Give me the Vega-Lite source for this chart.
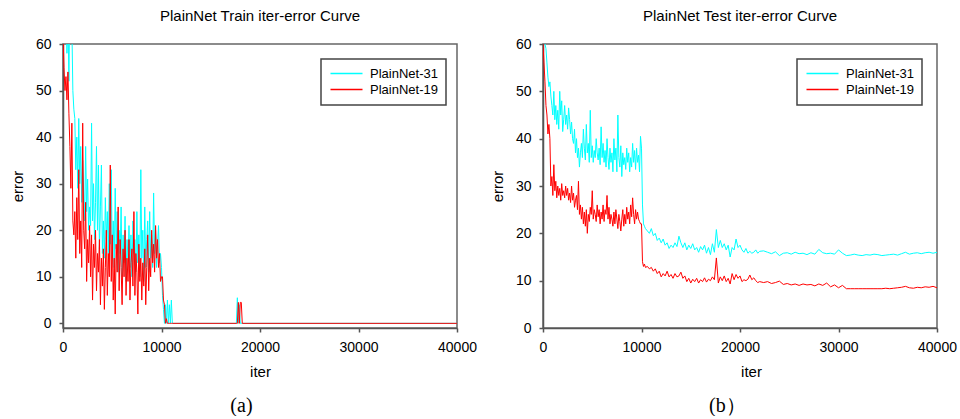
{
"$schema": "https://vega.github.io/schema/vega-lite/v6.json",
"background": "white",
"padding": {"left": 9, "top": 8, "right": 5, "bottom": 0},
"resolve": {"scale": {"color": "independent"}, "legend": {"color": "independent"}},
"config": {
  "font": "Liberation Sans",
  "view": {"stroke": "#666", "strokeWidth": 1.5},
  "axis": {"grid": false, "domainColor": "#555", "domainWidth": 1.5, "tickColor": "#555", "tickWidth": 1.5, "tickSize": 4, "labelFontSize": 14, "labelColor": "#000", "titleFontSize": 15, "titleFontWeight": "normal", "titleColor": "#000", "labelPadding": 8, "titlePadding": 10, "labelFlush": false, "labelOverlap": false, "format": "d"},
  "title": {"fontSize": 15, "fontWeight": "normal", "color": "#000", "anchor": "middle"},
  "legend": {"orient": "none", "title": null, "symbolType": "M-1,0H5.4", "symbolSize": 100, "symbolStrokeWidth": 1.5, "labelOffset": 28, "labelFontSize": 13, "labelColor": "#000", "padding": 8, "rowPadding": 2, "strokeColor": "#444", "fillColor": "white"},
  "concat": {"spacing": 11}
},
"datasets": {
"train": [
{"iter":0,"PlainNet-31":75,"PlainNet-19":62},
{"iter":100,"PlainNet-31":68,"PlainNet-19":55},
{"iter":200,"PlainNet-31":62,"PlainNet-19":50},
{"iter":300,"PlainNet-31":70,"PlainNet-19":53},
{"iter":400,"PlainNet-31":58,"PlainNet-19":48},
{"iter":500,"PlainNet-31":66,"PlainNet-19":54},
{"iter":600,"PlainNet-31":52,"PlainNet-19":45},
{"iter":700,"PlainNet-31":72,"PlainNet-19":38},
{"iter":800,"PlainNet-31":60,"PlainNet-19":29},
{"iter":900,"PlainNet-31":64,"PlainNet-19":43},
{"iter":1000,"PlainNet-31":50,"PlainNet-19":22},
{"iter":1100,"PlainNet-31":46,"PlainNet-19":19},
{"iter":1200,"PlainNet-31":44,"PlainNet-19":24},
{"iter":1300,"PlainNet-31":33,"PlainNet-19":14},
{"iter":1400,"PlainNet-31":40,"PlainNet-19":27},
{"iter":1500,"PlainNet-31":29,"PlainNet-19":18},
{"iter":1600,"PlainNet-31":44,"PlainNet-19":33},
{"iter":1700,"PlainNet-31":30,"PlainNet-19":15},
{"iter":1800,"PlainNet-31":38,"PlainNet-19":22},
{"iter":1900,"PlainNet-31":26,"PlainNet-19":12},
{"iter":2000,"PlainNet-31":35,"PlainNet-19":43},
{"iter":2100,"PlainNet-31":28,"PlainNet-19":20},
{"iter":2200,"PlainNet-31":22,"PlainNet-19":16},
{"iter":2300,"PlainNet-31":38,"PlainNet-19":26},
{"iter":2400,"PlainNet-31":24,"PlainNet-19":9},
{"iter":2500,"PlainNet-31":31,"PlainNet-19":18},
{"iter":2600,"PlainNet-31":20,"PlainNet-19":13},
{"iter":2700,"PlainNet-31":25,"PlainNet-19":21},
{"iter":2800,"PlainNet-31":21,"PlainNet-19":10},
{"iter":2900,"PlainNet-31":43,"PlainNet-19":19},
{"iter":3000,"PlainNet-31":22,"PlainNet-19":5},
{"iter":3100,"PlainNet-31":30,"PlainNet-19":17},
{"iter":3200,"PlainNet-31":18,"PlainNet-19":12},
{"iter":3300,"PlainNet-31":26,"PlainNet-19":20},
{"iter":3400,"PlainNet-31":38,"PlainNet-19":7},
{"iter":3500,"PlainNet-31":20,"PlainNet-19":15},
{"iter":3600,"PlainNet-31":34,"PlainNet-19":11},
{"iter":3700,"PlainNet-31":16,"PlainNet-19":18},
{"iter":3800,"PlainNet-31":25,"PlainNet-19":4},
{"iter":3900,"PlainNet-31":34,"PlainNet-19":14},
{"iter":4000,"PlainNet-31":15,"PlainNet-19":8},
{"iter":4100,"PlainNet-31":22,"PlainNet-19":16},
{"iter":4200,"PlainNet-31":14,"PlainNet-19":3},
{"iter":4300,"PlainNet-31":27,"PlainNet-19":12},
{"iter":4400,"PlainNet-31":18,"PlainNet-19":20},
{"iter":4500,"PlainNet-31":24,"PlainNet-19":6},
{"iter":4600,"PlainNet-31":15,"PlainNet-19":15},
{"iter":4700,"PlainNet-31":30,"PlainNet-19":10},
{"iter":4800,"PlainNet-31":17,"PlainNet-19":34},
{"iter":4900,"PlainNet-31":33,"PlainNet-19":9},
{"iter":5000,"PlainNet-31":14,"PlainNet-19":19},
{"iter":5100,"PlainNet-31":22,"PlainNet-19":5},
{"iter":5200,"PlainNet-31":12,"PlainNet-19":14},
{"iter":5300,"PlainNet-31":29,"PlainNet-19":2},
{"iter":5400,"PlainNet-31":16,"PlainNet-19":17},
{"iter":5500,"PlainNet-31":24,"PlainNet-19":11},
{"iter":5600,"PlainNet-31":11,"PlainNet-19":25},
{"iter":5700,"PlainNet-31":20,"PlainNet-19":7},
{"iter":5800,"PlainNet-31":15,"PlainNet-19":18},
{"iter":5900,"PlainNet-31":25,"PlainNet-19":12},
{"iter":6000,"PlainNet-31":10,"PlainNet-19":4},
{"iter":6100,"PlainNet-31":19,"PlainNet-19":16},
{"iter":6200,"PlainNet-31":13,"PlainNet-19":10},
{"iter":6300,"PlainNet-31":23,"PlainNet-19":20},
{"iter":6400,"PlainNet-31":9,"PlainNet-19":6},
{"iter":6500,"PlainNet-31":18,"PlainNet-19":14},
{"iter":6600,"PlainNet-31":14,"PlainNet-19":9},
{"iter":6700,"PlainNet-31":21,"PlainNet-19":18},
{"iter":6800,"PlainNet-31":12,"PlainNet-19":5},
{"iter":6900,"PlainNet-31":19,"PlainNet-19":13},
{"iter":7000,"PlainNet-31":10,"PlainNet-19":16},
{"iter":7100,"PlainNet-31":22,"PlainNet-19":8},
{"iter":7200,"PlainNet-31":15,"PlainNet-19":24},
{"iter":7300,"PlainNet-31":18,"PlainNet-19":6},
{"iter":7400,"PlainNet-31":11,"PlainNet-19":15},
{"iter":7500,"PlainNet-31":24,"PlainNet-19":11},
{"iter":7600,"PlainNet-31":13,"PlainNet-19":2},
{"iter":7700,"PlainNet-31":19,"PlainNet-19":17},
{"iter":7800,"PlainNet-31":10,"PlainNet-19":9},
{"iter":7900,"PlainNet-31":33,"PlainNet-19":14},
{"iter":8000,"PlainNet-31":14,"PlainNet-19":5},
{"iter":8100,"PlainNet-31":20,"PlainNet-19":13},
{"iter":8200,"PlainNet-31":9,"PlainNet-19":8},
{"iter":8300,"PlainNet-31":25,"PlainNet-19":16},
{"iter":8400,"PlainNet-31":12,"PlainNet-19":4},
{"iter":8500,"PlainNet-31":18,"PlainNet-19":12},
{"iter":8600,"PlainNet-31":22,"PlainNet-19":19},
{"iter":8700,"PlainNet-31":11,"PlainNet-19":7},
{"iter":8800,"PlainNet-31":24,"PlainNet-19":14},
{"iter":8900,"PlainNet-31":14,"PlainNet-19":10},
{"iter":9000,"PlainNet-31":19,"PlainNet-19":20},
{"iter":9100,"PlainNet-31":12,"PlainNet-19":13},
{"iter":9200,"PlainNet-31":28,"PlainNet-19":17},
{"iter":9300,"PlainNet-31":15,"PlainNet-19":11},
{"iter":9400,"PlainNet-31":20,"PlainNet-19":21},
{"iter":9500,"PlainNet-31":12,"PlainNet-19":14},
{"iter":9600,"PlainNet-31":17,"PlainNet-19":18},
{"iter":9700,"PlainNet-31":21,"PlainNet-19":12},
{"iter":9800,"PlainNet-31":13,"PlainNet-19":15},
{"iter":9900,"PlainNet-31":15,"PlainNet-19":9},
{"iter":10000,"PlainNet-31":12,"PlainNet-19":10},
{"iter":10100,"PlainNet-31":6,"PlainNet-19":10},
{"iter":10200,"PlainNet-31":3,"PlainNet-19":5},
{"iter":10300,"PlainNet-31":0,"PlainNet-19":4},
{"iter":10400,"PlainNet-31":4,"PlainNet-19":0},
{"iter":10500,"PlainNet-31":0,"PlainNet-19":1},
{"iter":10600,"PlainNet-31":5,"PlainNet-19":0},
{"iter":10700,"PlainNet-31":0,"PlainNet-19":0},
{"iter":10800,"PlainNet-31":4,"PlainNet-19":0},
{"iter":10900,"PlainNet-31":0,"PlainNet-19":0},
{"iter":11000,"PlainNet-31":5,"PlainNet-19":0},
{"iter":11100,"PlainNet-31":0,"PlainNet-19":0},
{"iter":17600,"PlainNet-31":0,"PlainNet-19":0},
{"iter":17700,"PlainNet-31":5.5,"PlainNet-19":0},
{"iter":17800,"PlainNet-31":0,"PlainNet-19":4.5},
{"iter":17900,"PlainNet-31":4,"PlainNet-19":0},
{"iter":18000,"PlainNet-31":0,"PlainNet-19":4.5},
{"iter":18100,"PlainNet-31":0,"PlainNet-19":4.5},
{"iter":18200,"PlainNet-31":0,"PlainNet-19":0},
{"iter":40000,"PlainNet-31":0,"PlainNet-19":0}
],
"test": [
{"iter":0,"PlainNet-31":62,"PlainNet-19":60},
{"iter":100,"PlainNet-31":61,"PlainNet-19":56},
{"iter":200,"PlainNet-31":60,"PlainNet-19":52},
{"iter":300,"PlainNet-31":59,"PlainNet-19":47},
{"iter":400,"PlainNet-31":56,"PlainNet-19":45},
{"iter":500,"PlainNet-31":53,"PlainNet-19":41},
{"iter":600,"PlainNet-31":51,"PlainNet-19":43},
{"iter":700,"PlainNet-31":52,"PlainNet-19":40},
{"iter":800,"PlainNet-31":49,"PlainNet-19":30},
{"iter":900,"PlainNet-31":47,"PlainNet-19":32},
{"iter":1000,"PlainNet-31":45,"PlainNet-19":28},
{"iter":1100,"PlainNet-31":50,"PlainNet-19":34.5},
{"iter":1200,"PlainNet-31":44,"PlainNet-19":29},
{"iter":1300,"PlainNet-31":47,"PlainNet-19":31},
{"iter":1400,"PlainNet-31":43,"PlainNet-19":27.5},
{"iter":1500,"PlainNet-31":46,"PlainNet-19":30},
{"iter":1600,"PlainNet-31":42,"PlainNet-19":28},
{"iter":1700,"PlainNet-31":50,"PlainNet-19":29.5},
{"iter":1800,"PlainNet-31":45,"PlainNet-19":27},
{"iter":1900,"PlainNet-31":48,"PlainNet-19":30.5},
{"iter":2000,"PlainNet-31":41.5,"PlainNet-19":28},
{"iter":2100,"PlainNet-31":44,"PlainNet-19":29},
{"iter":2200,"PlainNet-31":47,"PlainNet-19":27.5},
{"iter":2300,"PlainNet-31":43,"PlainNet-19":30},
{"iter":2400,"PlainNet-31":45,"PlainNet-19":28},
{"iter":2500,"PlainNet-31":42,"PlainNet-19":29.5},
{"iter":2600,"PlainNet-31":46.5,"PlainNet-19":27},
{"iter":2700,"PlainNet-31":44,"PlainNet-19":28.5},
{"iter":2800,"PlainNet-31":41,"PlainNet-19":26.5},
{"iter":2900,"PlainNet-31":43.5,"PlainNet-19":30},
{"iter":3000,"PlainNet-31":40,"PlainNet-19":27},
{"iter":3100,"PlainNet-31":39,"PlainNet-19":28.5},
{"iter":3200,"PlainNet-31":42,"PlainNet-19":25.5},
{"iter":3300,"PlainNet-31":37,"PlainNet-19":27},
{"iter":3400,"PlainNet-31":40,"PlainNet-19":28},
{"iter":3500,"PlainNet-31":36,"PlainNet-19":25},
{"iter":3600,"PlainNet-31":38,"PlainNet-19":31},
{"iter":3700,"PlainNet-31":34,"PlainNet-19":24},
{"iter":3800,"PlainNet-31":37,"PlainNet-19":26},
{"iter":3900,"PlainNet-31":39,"PlainNet-19":23},
{"iter":4000,"PlainNet-31":36,"PlainNet-19":25.5},
{"iter":4100,"PlainNet-31":42,"PlainNet-19":22},
{"iter":4200,"PlainNet-31":38,"PlainNet-19":24.5},
{"iter":4300,"PlainNet-31":35.5,"PlainNet-19":21.5},
{"iter":4400,"PlainNet-31":43,"PlainNet-19":25},
{"iter":4500,"PlainNet-31":37,"PlainNet-19":20},
{"iter":4600,"PlainNet-31":39,"PlainNet-19":24},
{"iter":4700,"PlainNet-31":35,"PlainNet-19":22.5},
{"iter":4800,"PlainNet-31":46,"PlainNet-19":25.5},
{"iter":4900,"PlainNet-31":36,"PlainNet-19":24},
{"iter":5000,"PlainNet-31":38.5,"PlainNet-19":29},
{"iter":5100,"PlainNet-31":35,"PlainNet-19":23},
{"iter":5200,"PlainNet-31":37.5,"PlainNet-19":25},
{"iter":5300,"PlainNet-31":36,"PlainNet-19":24},
{"iter":5400,"PlainNet-31":40,"PlainNet-19":22.5},
{"iter":5500,"PlainNet-31":37,"PlainNet-19":26},
{"iter":5600,"PlainNet-31":35.5,"PlainNet-19":23.5},
{"iter":5700,"PlainNet-31":38,"PlainNet-19":25},
{"iter":5800,"PlainNet-31":34.5,"PlainNet-19":22},
{"iter":5900,"PlainNet-31":42.5,"PlainNet-19":24.5},
{"iter":6000,"PlainNet-31":36,"PlainNet-19":23},
{"iter":6100,"PlainNet-31":39,"PlainNet-19":26},
{"iter":6200,"PlainNet-31":35,"PlainNet-19":22.5},
{"iter":6300,"PlainNet-31":37.5,"PlainNet-19":25},
{"iter":6400,"PlainNet-31":34,"PlainNet-19":24},
{"iter":6500,"PlainNet-31":40,"PlainNet-19":28},
{"iter":6600,"PlainNet-31":36,"PlainNet-19":23},
{"iter":6700,"PlainNet-31":33.5,"PlainNet-19":25.5},
{"iter":6800,"PlainNet-31":38,"PlainNet-19":22},
{"iter":6900,"PlainNet-31":35,"PlainNet-19":24},
{"iter":7000,"PlainNet-31":37,"PlainNet-19":23},
{"iter":7100,"PlainNet-31":33,"PlainNet-19":21.5},
{"iter":7200,"PlainNet-31":40,"PlainNet-19":24.5},
{"iter":7300,"PlainNet-31":35.5,"PlainNet-19":22},
{"iter":7400,"PlainNet-31":38,"PlainNet-19":25},
{"iter":7500,"PlainNet-31":33,"PlainNet-19":23},
{"iter":7600,"PlainNet-31":45,"PlainNet-19":21},
{"iter":7700,"PlainNet-31":36,"PlainNet-19":24},
{"iter":7800,"PlainNet-31":34,"PlainNet-19":22.5},
{"iter":7900,"PlainNet-31":38.5,"PlainNet-19":20.5},
{"iter":8000,"PlainNet-31":32,"PlainNet-19":23},
{"iter":8100,"PlainNet-31":37,"PlainNet-19":25},
{"iter":8200,"PlainNet-31":34.5,"PlainNet-19":21.5},
{"iter":8300,"PlainNet-31":36,"PlainNet-19":24},
{"iter":8400,"PlainNet-31":33.5,"PlainNet-19":22},
{"iter":8500,"PlainNet-31":38,"PlainNet-19":25.5},
{"iter":8600,"PlainNet-31":35,"PlainNet-19":23},
{"iter":8700,"PlainNet-31":37,"PlainNet-19":24.5},
{"iter":8800,"PlainNet-31":33,"PlainNet-19":22},
{"iter":8900,"PlainNet-31":36,"PlainNet-19":26},
{"iter":9000,"PlainNet-31":34,"PlainNet-19":23.5},
{"iter":9100,"PlainNet-31":39,"PlainNet-19":27.5},
{"iter":9200,"PlainNet-31":35,"PlainNet-19":24},
{"iter":9300,"PlainNet-31":37.5,"PlainNet-19":22},
{"iter":9400,"PlainNet-31":33.5,"PlainNet-19":25},
{"iter":9500,"PlainNet-31":38,"PlainNet-19":23},
{"iter":9600,"PlainNet-31":35,"PlainNet-19":24.5},
{"iter":9700,"PlainNet-31":36.5,"PlainNet-19":23},
{"iter":9800,"PlainNet-31":33,"PlainNet-19":22.5},
{"iter":9900,"PlainNet-31":40.5,"PlainNet-19":22},
{"iter":10000,"PlainNet-31":38,"PlainNet-19":22},
{"iter":10100,"PlainNet-31":26,"PlainNet-19":14},
{"iter":10200,"PlainNet-31":22,"PlainNet-19":13},
{"iter":10300,"PlainNet-31":21.5,"PlainNet-19":13.5},
{"iter":10400,"PlainNet-31":21,"PlainNet-19":12.8},
{"iter":10600,"PlainNet-31":20.5,"PlainNet-19":13},
{"iter":10800,"PlainNet-31":20,"PlainNet-19":12.5},
{"iter":11000,"PlainNet-31":21,"PlainNet-19":12.8},
{"iter":11200,"PlainNet-31":19.5,"PlainNet-19":12},
{"iter":11400,"PlainNet-31":20,"PlainNet-19":12.5},
{"iter":11600,"PlainNet-31":18.5,"PlainNet-19":11.5},
{"iter":11800,"PlainNet-31":19,"PlainNet-19":12},
{"iter":12000,"PlainNet-31":18,"PlainNet-19":10.8},
{"iter":12200,"PlainNet-31":18.8,"PlainNet-19":11.5},
{"iter":12400,"PlainNet-31":17.5,"PlainNet-19":11},
{"iter":12600,"PlainNet-31":18,"PlainNet-19":12},
{"iter":12800,"PlainNet-31":16.8,"PlainNet-19":10.8},
{"iter":13000,"PlainNet-31":17.5,"PlainNet-19":11.3},
{"iter":13200,"PlainNet-31":17,"PlainNet-19":10.5},
{"iter":13400,"PlainNet-31":18,"PlainNet-19":11.5},
{"iter":13600,"PlainNet-31":17.2,"PlainNet-19":10.8},
{"iter":13800,"PlainNet-31":19.4,"PlainNet-19":11},
{"iter":14000,"PlainNet-31":18,"PlainNet-19":11.8},
{"iter":14200,"PlainNet-31":17,"PlainNet-19":10.5},
{"iter":14400,"PlainNet-31":18,"PlainNet-19":11},
{"iter":14600,"PlainNet-31":16.5,"PlainNet-19":9.8},
{"iter":14800,"PlainNet-31":17.5,"PlainNet-19":10.5},
{"iter":15000,"PlainNet-31":16.8,"PlainNet-19":9.5},
{"iter":15200,"PlainNet-31":17.8,"PlainNet-19":10.3},
{"iter":15400,"PlainNet-31":16.5,"PlainNet-19":9.8},
{"iter":15600,"PlainNet-31":17,"PlainNet-19":10.5},
{"iter":15800,"PlainNet-31":16,"PlainNet-19":9.5},
{"iter":16000,"PlainNet-31":17.2,"PlainNet-19":10.2},
{"iter":16200,"PlainNet-31":16.5,"PlainNet-19":9.8},
{"iter":16400,"PlainNet-31":17.5,"PlainNet-19":10.6},
{"iter":16600,"PlainNet-31":15.8,"PlainNet-19":9.7},
{"iter":16800,"PlainNet-31":17,"PlainNet-19":10.3},
{"iter":17000,"PlainNet-31":15.5,"PlainNet-19":10},
{"iter":17200,"PlainNet-31":17.8,"PlainNet-19":10.8},
{"iter":17400,"PlainNet-31":16,"PlainNet-19":10.2},
{"iter":17600,"PlainNet-31":20.8,"PlainNet-19":14.8},
{"iter":17800,"PlainNet-31":17,"PlainNet-19":9.5},
{"iter":18000,"PlainNet-31":18.5,"PlainNet-19":10.8},
{"iter":18200,"PlainNet-31":17,"PlainNet-19":10},
{"iter":18400,"PlainNet-31":17.8,"PlainNet-19":11},
{"iter":18600,"PlainNet-31":16.5,"PlainNet-19":9.8},
{"iter":18800,"PlainNet-31":17.5,"PlainNet-19":10.5},
{"iter":19000,"PlainNet-31":15,"PlainNet-19":9.3},
{"iter":19200,"PlainNet-31":17,"PlainNet-19":11.5},
{"iter":19400,"PlainNet-31":16.5,"PlainNet-19":10.2},
{"iter":19600,"PlainNet-31":18.8,"PlainNet-19":11.3},
{"iter":19800,"PlainNet-31":17,"PlainNet-19":10.5},
{"iter":20000,"PlainNet-31":17.5,"PlainNet-19":11},
{"iter":20200,"PlainNet-31":16.5,"PlainNet-19":9.8},
{"iter":20400,"PlainNet-31":16,"PlainNet-19":10.2},
{"iter":20600,"PlainNet-31":16.8,"PlainNet-19":10},
{"iter":20800,"PlainNet-31":15.8,"PlainNet-19":10.3},
{"iter":21000,"PlainNet-31":16.2,"PlainNet-19":11.2},
{"iter":21200,"PlainNet-31":15.8,"PlainNet-19":10.2},
{"iter":21400,"PlainNet-31":16,"PlainNet-19":10.6},
{"iter":21600,"PlainNet-31":16.5,"PlainNet-19":10},
{"iter":21800,"PlainNet-31":15.8,"PlainNet-19":9.6},
{"iter":22000,"PlainNet-31":16.2,"PlainNet-19":9.8},
{"iter":22400,"PlainNet-31":16.3,"PlainNet-19":9.6},
{"iter":22800,"PlainNet-31":16.0,"PlainNet-19":9.8},
{"iter":23200,"PlainNet-31":15.7,"PlainNet-19":9.4},
{"iter":23600,"PlainNet-31":16.1,"PlainNet-19":9.6},
{"iter":24000,"PlainNet-31":15.3,"PlainNet-19":9.9},
{"iter":24400,"PlainNet-31":15.8,"PlainNet-19":9.2},
{"iter":24800,"PlainNet-31":15.9,"PlainNet-19":9.4},
{"iter":25200,"PlainNet-31":15.6,"PlainNet-19":9.1},
{"iter":25600,"PlainNet-31":16.0,"PlainNet-19":9.3},
{"iter":26000,"PlainNet-31":15.7,"PlainNet-19":9.0},
{"iter":26400,"PlainNet-31":15.8,"PlainNet-19":9.3},
{"iter":26800,"PlainNet-31":15.5,"PlainNet-19":9.1},
{"iter":27200,"PlainNet-31":15.9,"PlainNet-19":9.2},
{"iter":27600,"PlainNet-31":15.6,"PlainNet-19":8.9},
{"iter":28000,"PlainNet-31":16.6,"PlainNet-19":9.3},
{"iter":28400,"PlainNet-31":15.9,"PlainNet-19":9.0},
{"iter":28800,"PlainNet-31":15.7,"PlainNet-19":9.5},
{"iter":29200,"PlainNet-31":15.8,"PlainNet-19":8.7},
{"iter":29600,"PlainNet-31":15.6,"PlainNet-19":9.1},
{"iter":30000,"PlainNet-31":16.5,"PlainNet-19":8.5},
{"iter":30400,"PlainNet-31":15.8,"PlainNet-19":9.0},
{"iter":30800,"PlainNet-31":15.3,"PlainNet-19":8.3},
{"iter":31200,"PlainNet-31":15.4,"PlainNet-19":8.3},
{"iter":31600,"PlainNet-31":15.6,"PlainNet-19":8.3},
{"iter":32000,"PlainNet-31":15.4,"PlainNet-19":8.3},
{"iter":32400,"PlainNet-31":15.3,"PlainNet-19":8.3},
{"iter":32800,"PlainNet-31":15.5,"PlainNet-19":8.3},
{"iter":33200,"PlainNet-31":15.4,"PlainNet-19":8.3},
{"iter":33600,"PlainNet-31":15.6,"PlainNet-19":8.3},
{"iter":34000,"PlainNet-31":15.5,"PlainNet-19":8.3},
{"iter":34400,"PlainNet-31":15.3,"PlainNet-19":8.3},
{"iter":34800,"PlainNet-31":15.4,"PlainNet-19":8.4},
{"iter":35200,"PlainNet-31":15.5,"PlainNet-19":8.3},
{"iter":35600,"PlainNet-31":15.6,"PlainNet-19":8.4},
{"iter":36000,"PlainNet-31":15.4,"PlainNet-19":8.5},
{"iter":36400,"PlainNet-31":15.7,"PlainNet-19":8.6},
{"iter":36800,"PlainNet-31":16.0,"PlainNet-19":8.8},
{"iter":37200,"PlainNet-31":15.6,"PlainNet-19":8.5},
{"iter":37600,"PlainNet-31":15.8,"PlainNet-19":8.4},
{"iter":38000,"PlainNet-31":15.9,"PlainNet-19":8.6},
{"iter":38400,"PlainNet-31":15.7,"PlainNet-19":8.5},
{"iter":38800,"PlainNet-31":15.9,"PlainNet-19":8.7},
{"iter":39200,"PlainNet-31":16.0,"PlainNet-19":8.6},
{"iter":39600,"PlainNet-31":15.8,"PlainNet-19":8.8},
{"iter":40000,"PlainNet-31":16.0,"PlainNet-19":8.5}
]
},
"hconcat": [
  {
    "title": {"text": "(a)", "orient": "bottom", "font": "Liberation Serif", "fontSize": 20, "dx": -2, "offset": 16},
    "vconcat": [
      {
        "width": 394, "height": 284,
        "title": {"text": "PlainNet Train iter-error Curve", "offset": 13},
        "data": {"name": "train"},
        "transform": [{"fold": ["PlainNet-31", "PlainNet-19"], "as": ["net", "error"]}],
        "encoding": {
          "x": {"field": "iter", "type": "quantitative", "scale": {"domain": [0, 40000], "nice": false}, "axis": {"values": [0, 10000, 20000, 30000, 40000], "title": "iter"}},
          "y": {"field": "error", "type": "quantitative", "scale": {"domain": [-1, 60], "nice": false, "zero": false}, "axis": {"values": [0, 10, 20, 30, 40, 50, 60], "title": "error"}},
          "color": {"field": "net", "type": "nominal", "scale": {"domain": ["PlainNet-31", "PlainNet-19"], "range": ["#00FFFF", "#FF0000"]}, "legend": {"legendX": 258, "legendY": 15, "encode": {"legend": {"update": {"strokeWidth": {"value": 1.5}}}}}}
        },
        "layer": [
          {"transform": [{"filter": "datum.net == 'PlainNet-31'"}], "mark": {"type": "line", "strokeWidth": 1, "clip": true}},
          {"transform": [{"filter": "datum.net == 'PlainNet-19'"}], "mark": {"type": "line", "strokeWidth": 1, "clip": true}}
        ]
      }
    ]
  },
  {
    "title": {"text": "(b）", "orient": "bottom", "font": "Liberation Serif", "fontSize": 20, "dx": 4, "offset": 16},
    "vconcat": [
      {
        "width": 394, "height": 284,
        "title": {"text": "PlainNet Test iter-error Curve", "offset": 13},
        "data": {"name": "test"},
        "transform": [{"fold": ["PlainNet-31", "PlainNet-19"], "as": ["net", "error"]}],
        "encoding": {
          "x": {"field": "iter", "type": "quantitative", "scale": {"domain": [0, 40000], "nice": false}, "axis": {"values": [0, 10000, 20000, 30000, 40000], "title": "iter", "titleX": 208}},
          "y": {"field": "error", "type": "quantitative", "scale": {"domain": [0, 60], "nice": false}, "axis": {"values": [0, 10, 20, 30, 40, 50, 60], "title": "error"}},
          "color": {"field": "net", "type": "nominal", "scale": {"domain": ["PlainNet-31", "PlainNet-19"], "range": ["#00FFFF", "#FF0000"]}, "legend": {"legendX": 254, "legendY": 15, "encode": {"legend": {"update": {"strokeWidth": {"value": 1.5}}}}}}
        },
        "layer": [
          {"transform": [{"filter": "datum.net == 'PlainNet-31'"}], "mark": {"type": "line", "strokeWidth": 1, "clip": true}},
          {"transform": [{"filter": "datum.net == 'PlainNet-19'"}], "mark": {"type": "line", "strokeWidth": 1, "clip": true}}
        ]
      }
    ]
  }
]
}
